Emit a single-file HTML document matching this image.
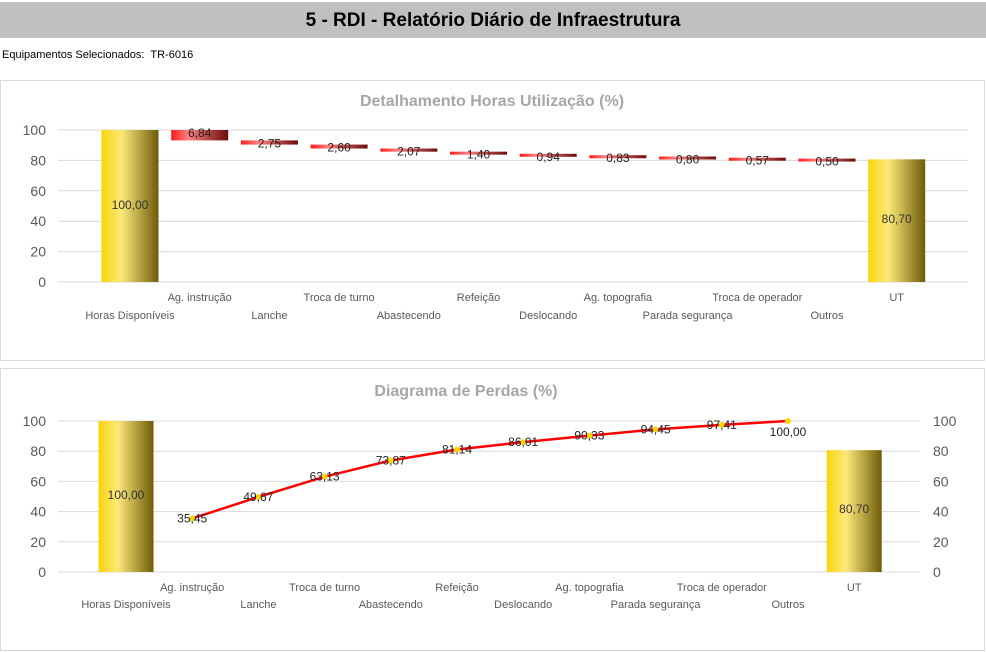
<!DOCTYPE html>
<html><head><meta charset="utf-8"><style>
body{margin:0;width:986px;height:652px;background:#fff;font-family:"Liberation Sans",sans-serif;overflow:hidden;position:relative}
#hdr{position:absolute;left:0;top:2px;width:986px;height:36px;background:#c0c0c0;text-align:center;font:bold 19px "Liberation Sans",sans-serif;line-height:38px;color:#000}
#sel{position:absolute;left:2px;top:49px;font-size:11px;color:#000}
svg{position:absolute;left:0;top:0}
</style></head><body>
<div id="hdr">5 - RDI - Relatório Diário de Infraestrutura</div>
<div id="sel">Equipamentos Selecionados:&nbsp; TR-6016</div>
<svg id="s" width="986" height="652" xmlns="http://www.w3.org/2000/svg">
<defs>
<linearGradient id="g" x1="0" x2="1"><stop offset="0" stop-color="#f8d40a"/><stop offset="0.35" stop-color="#fde97a"/><stop offset="1" stop-color="#6e5c08"/></linearGradient>
<linearGradient id="r" x1="0" x2="1"><stop offset="0" stop-color="#ff1a1a"/><stop offset="0.3" stop-color="#ff8080"/><stop offset="1" stop-color="#6b0b0b"/></linearGradient>
</defs>
<rect x="0.5" y="80.5" width="984" height="280" fill="none" stroke="#d9d9d9"/>
<rect x="0.5" y="368.5" width="984" height="282" fill="none" stroke="#d9d9d9"/>
</svg>
<script>
(function(){
var s=document.getElementById('s'),h='';
var cats=["Horas Disponíveis","Ag. instrução","Lanche","Troca de turno","Abastecendo","Refeição","Deslocando","Ag. topografia","Parada segurança","Troca de operador","Outros","UT"];
var v=[6.84,2.75,2.60,2.07,1.40,0.94,0.83,0.80,0.57,0.50];
function t(x,y,s,o){return '<text x="'+x+'" y="'+y+'" '+(o||'')+'>'+s+'</text>';}
h+=t(492,106,"Detalhamento Horas Utilização (%)",'text-anchor="middle" font-size="16" font-weight="bold" fill="#a6a6a6"');
var y0=282,k=1.52,i,y;
for(i=0;i<=5;i++){y=y0-i*20*k;h+='<line x1="58" x2="968" y1="'+y+'" y2="'+y+'" stroke="#d9d9d9"/>';h+=t(46,y+5,i*20,'text-anchor="end" font-size="14" fill="#595959"');}
var c1=function(i){return 130+i*69.7;};
h+='<rect x="'+(c1(0)-28.5)+'" y="'+(y0-100*k)+'" width="57" height="'+(100*k)+'" fill="url(#g)"/>';
h+=t(c1(0),209,"100,00",'text-anchor="middle" font-size="12" fill="#333"');
var tp=100;
for(i=0;i<10;i++){var hh=Math.max(v[i]*k,3);h+='<rect x="'+(c1(i+1)-28.5)+'" y="'+(y0-tp*k)+'" width="57" height="'+hh+'" fill="url(#r)"/>';
h+=t(c1(i+1),y0-tp*k+7,v[i].toFixed(2).replace('.',','),'text-anchor="middle" font-size="12" fill="#222"');tp-=v[i];}
h+='<rect x="'+(c1(11)-28.5)+'" y="'+(y0-80.7*k)+'" width="57" height="'+(80.7*k)+'" fill="url(#g)"/>';
h+=t(c1(11),223,"80,70",'text-anchor="middle" font-size="12" fill="#333"');
for(i=0;i<12;i++)h+=t(c1(i),i%2?301:319,cats[i],'text-anchor="middle" font-size="11" fill="#595959"');
h+=t(466,396,"Diagrama de Perdas (%)",'text-anchor="middle" font-size="16" font-weight="bold" fill="#a6a6a6"');
y0=572;k=1.51;
for(i=0;i<=5;i++){y=y0-i*20*k;h+='<line x1="58" x2="920" y1="'+y+'" y2="'+y+'" stroke="#d9d9d9"/>';h+=t(46,y+5,i*20,'text-anchor="end" font-size="14" fill="#595959"');h+=t(933,y+5,i*20,'font-size="14" fill="#595959"');}
var c2=function(i){return 126+i*66.2;};
h+='<rect x="'+(c2(0)-27.5)+'" y="'+(y0-100*k)+'" width="55" height="'+(100*k)+'" fill="url(#g)"/>';
h+=t(c2(0),499,"100,00",'text-anchor="middle" font-size="12" fill="#333"');
h+='<rect x="'+(c2(11)-27.5)+'" y="'+(y0-80.7*k)+'" width="55" height="'+(80.7*k)+'" fill="url(#g)"/>';
h+=t(c2(11),513,"80,70",'text-anchor="middle" font-size="12" fill="#333"');
var cum=[35.45,49.67,63.13,73.87,81.14,86.01,90.33,94.45,97.41,100];
var pts=cum.map(function(c,i){return c2(i+1)+','+(y0-c*k);}).join(' ');
h+='<polyline points="'+pts+'" fill="none" stroke="#ff0000" stroke-width="2.5"/>';
for(i=0;i<10;i++){var x=c2(i+1);y=y0-cum[i]*k;h+='<circle cx="'+x+'" cy="'+y+'" r="3" fill="#ffd700"/>';
h+=t(x,i==9?y+15:y+4,cum[i].toFixed(2).replace('.',','),'text-anchor="middle" font-size="12" fill="#222"');}
for(i=0;i<12;i++)h+=t(c2(i),i%2?591:608,cats[i],'text-anchor="middle" font-size="11" fill="#595959"');
s.insertAdjacentHTML('beforeend',h);
})();
</script>
</body></html>
